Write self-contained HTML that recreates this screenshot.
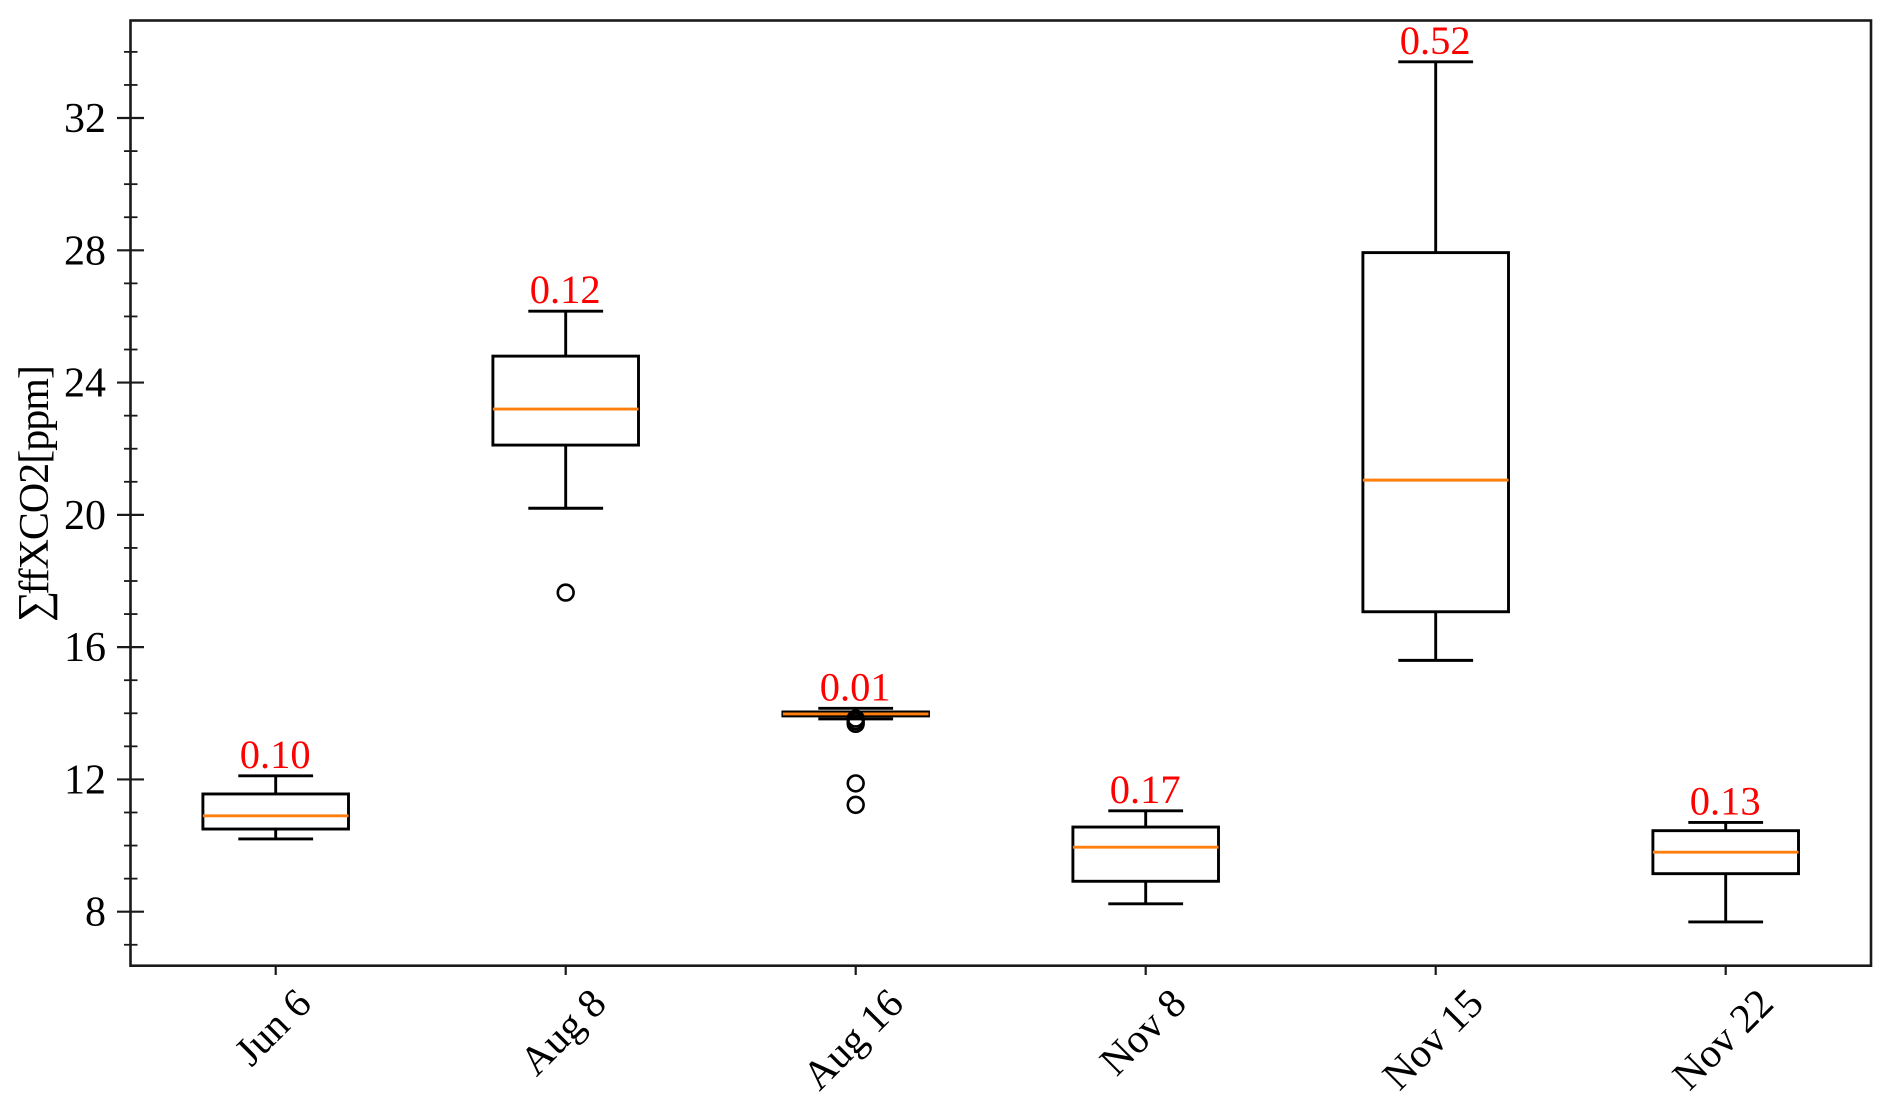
<!DOCTYPE html>
<html lang="en">
<head>
<meta charset="utf-8">
<title>Box plot of ffXCO2 by date</title>
<style>
html,body{margin:0;padding:0;background:#fff;}
svg{display:block;}
text{font-family:"Liberation Serif","DejaVu Serif",serif;fill:#000;}
</style>
</head>
<body>
<svg id="chart" width="1892" height="1108" viewBox="0 0 1892 1108" xmlns="http://www.w3.org/2000/svg">
  <rect width="1892" height="1108" fill="#fff"/>
  <text transform="translate(48,622) rotate(-90)" font-size="42" letter-spacing="-1"><tspan font-size="44">∑</tspan><tspan dx="-3">ffXCO2[ppm]</tspan></text>
  <g id="ticks"></g>
  <g id="boxes"></g>
  <rect x="130.5" y="20.5" width="1740.5" height="945.2" fill="none" stroke="#1a1a1a" stroke-width="2.6"/>
</svg>
<script>
const categories = ['Jun 6', 'Aug 8', 'Aug 16', 'Nov 8', 'Nov 15', 'Nov 22'];
const whiskerHigh = [12.11, 26.16, 14.15, 11.05, 33.7, 10.7];
const q3 = [11.56, 24.8, 14.04, 10.56, 27.93, 10.45];
const median = [10.9, 23.2, 13.98, 9.95, 21.05, 9.8];
const q1 = [10.5, 22.11, 13.92, 8.92, 17.07, 9.15];
const whiskerLow = [10.2, 20.2, 13.83, 8.24, 15.6, 7.69];
const outliers = [[], [17.65], [13.84, 13.76, 13.68, 11.88, 11.23], [], [], []];
const annotations = ['0.10', '0.12', '0.01', '0.17', '0.52', '0.13'];
const yMajorTicks = [8, 12, 16, 20, 24, 28, 32];
const yMinorTicks = [7, 9, 10, 11, 13, 14, 15, 17, 18, 19, 21, 22, 23, 25, 26, 27, 29, 30, 31, 33, 34];

const NS = 'http://www.w3.org/2000/svg';
const ticksG = document.getElementById('ticks');
const boxesG = document.getElementById('boxes');

function xScale(i) { return 275.7 + i * 290; }
function yScale(v) { return 911.7 - (v - 8) * 33.07; }

function make(parent, tag, name, props) {
  const el = document.createElementNS(NS, tag);
  
  
  for (const k in props) el.setAttribute(k, props[k]);
  parent.appendChild(el);
  return el;
}
function line(parent, name, x1, y1, x2, y2, stroke, w) {
  return make(parent, 'line', name, { x1: x1, y1: y1, x2: x2, y2: y2, stroke: stroke, 'stroke-width': w });
}

yMajorTicks.forEach(function (v) {
  const y = yScale(v);
  line(ticksG, 'y-major-tick-' + v, 117, y, 144, y, '#1a1a1a', 2.2);
  const t = make(ticksG, 'text', 'y-tick-label-' + v, { x: 106, y: y + 14, 'text-anchor': 'end', 'font-size': 42 });
  t.textContent = String(v);
});
yMinorTicks.forEach(function (v) {
  const y = yScale(v);
  line(ticksG, 'y-minor-tick-' + v, 124, y, 137.5, y, '#1a1a1a', 1.8);
});

const HALF_BOX = 72.8;
const HALF_CAP = 37.4;
const BLACK = '#000';
const ORANGE = '#ff7f0e';
const LW = 2.9;

categories.forEach(function (cat, i) {
  const x = xScale(i);
  const slug = cat.toLowerCase().replace(' ', '-');

  line(ticksG, 'x-tick-' + slug, x, 965.7, x, 975, '#1a1a1a', 2.2);
  const label = make(ticksG, 'text', 'x-tick-label-' + slug, { 'text-anchor': 'middle', 'font-size': 41 });
  label.textContent = cat;
  const len = label.getComputedTextLength();
  const cx = x - 2.5;
  const cy = 986 + (len + 30) * Math.SQRT1_2 / 2;
  label.setAttribute('transform', 'translate(' + cx + ',' + cy + ') rotate(-45) translate(0,13)');

  const g = make(boxesG, 'g', 'box-' + slug, {});
  line(g, 'upper-whisker-' + slug, x, yScale(q3[i]), x, yScale(whiskerHigh[i]), BLACK, LW);
  line(g, 'lower-whisker-' + slug, x, yScale(q1[i]), x, yScale(whiskerLow[i]), BLACK, LW);
  line(g, 'upper-cap-' + slug, x - HALF_CAP, yScale(whiskerHigh[i]), x + HALF_CAP, yScale(whiskerHigh[i]), BLACK, LW);
  line(g, 'lower-cap-' + slug, x - HALF_CAP, yScale(whiskerLow[i]), x + HALF_CAP, yScale(whiskerLow[i]), BLACK, LW);
  make(g, 'rect', 'iqr-box-' + slug, {
    x: x - HALF_BOX, y: yScale(q3[i]), width: HALF_BOX * 2, height: yScale(q1[i]) - yScale(q3[i]),
    fill: 'none', stroke: BLACK, 'stroke-width': LW
  });
  line(g, 'median-line-' + slug, x - HALF_BOX, yScale(median[i]), x + HALF_BOX, yScale(median[i]), ORANGE, 2.9);
  outliers[i].forEach(function (v, j) {
    make(g, 'circle', 'outlier-' + slug + '-' + j, {
      cx: x, cy: yScale(v), r: 7.9, fill: 'none', stroke: BLACK, 'stroke-width': 2.6
    });
  });
  const note = make(g, 'text', 'value-label-' + slug, {
    x: x - 0.5, y: yScale(whiskerHigh[i]) - 8, 'text-anchor': 'middle', 'font-size': 40.5
  });
  note.style.fill = '#ff0000';
  note.textContent = annotations[i];
});
</script>
</body>
</html>
